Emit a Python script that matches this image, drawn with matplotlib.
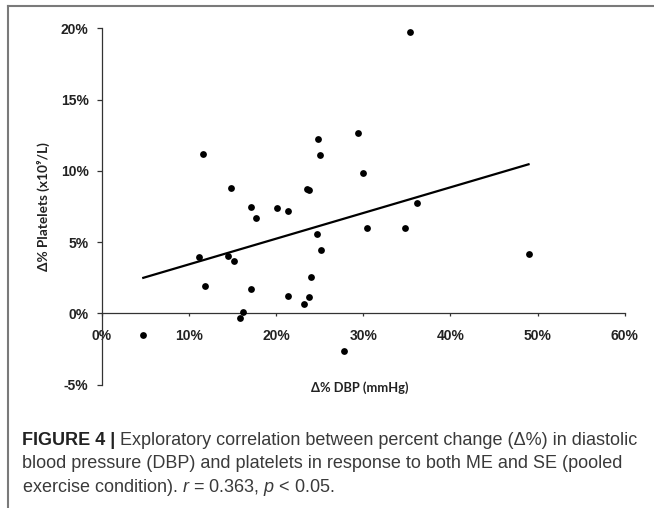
import numpy as np
import matplotlib
matplotlib.use("Agg")
import matplotlib.pyplot as plt
from matplotlib.lines import Line2D
from matplotlib.ticker import FuncFormatter

# ---- data (percent values) ----
dbp_change = [11.58, 14.83, 17.12, 17.73, 20.1, 21.4, 23.54, 23.8, 24.8, 25.03,
              29.43, 29.93, 30.42, 24.65, 25.15, 11.19, 14.48, 15.21, 11.81, 17.12,
              21.4, 23.17, 23.77, 24.0, 16.2, 15.86, 4.77, 35.36, 36.12, 34.75,
              48.97, 27.76]
platelet_change = [11.2, 8.82, 7.48, 6.71, 7.41, 7.18, 8.75, 8.65, 12.21, 11.11,
                   12.68, 9.87, 6.01, 5.54, 4.46, 3.93, 4.0, 3.69, 1.94, 1.68,
                   1.21, 0.67, 1.14, 2.55, 0.07, -0.31, -1.52, 19.76, 7.72, 6.01,
                   4.16, -2.65]
x_ticks = [0, 10, 20, 30, 40, 50, 60]
y_ticks = [-5, 0, 5, 10, 15, 20]

x_label = "Δ% DBP (mmHg)"
y_label = "Δ% Platelets (x10⁹/L)"
caption_bold = "FIGURE 4 |"
caption_lines = [
    " Exploratory correlation between percent change (Δ%) in diastolic",
    "blood pressure (DBP) and platelets in response to both ME and SE (pooled",
    "exercise condition). $r$ = 0.363, $p$ < 0.05.",
]

plt.rcParams['mathtext.fontset'] = 'custom'
plt.rcParams['mathtext.rm'] = 'Liberation Sans'
plt.rcParams['mathtext.it'] = 'Liberation Sans:italic'
plt.rcParams['mathtext.bf'] = 'Liberation Sans:bold'

W, H = 654, 508
fig = plt.figure(figsize=(W / 100, H / 100), dpi=100)
fig.patch.set_facecolor('white')

# axes placement (pixels measured from reference)
x0_px, x1_px = 101.7, 624.7
ytop_px, ybot_px = 28.3, 384.5
ax = fig.add_axes([x0_px / W, (H - ybot_px) / H, (x1_px - x0_px) / W, (ybot_px - ytop_px) / H])

ax.scatter(dbp_change, platelet_change, s=24, color='black', zorder=3, linewidths=0)

# linear trend line from the data
xa = np.array(dbp_change)
ya = np.array(platelet_change)
k, b = np.polyfit(xa, ya, 1)
xs = np.array([xa.min(), xa.max()])
ax.plot(xs, k * xs + b, color='black', lw=1.6, zorder=2)

ax.set_xlim(0, 60)
ax.set_ylim(-5, 20)
ax.set_xticks(x_ticks)
ax.set_yticks(y_ticks)
pct = FuncFormatter(lambda v, p: f"{int(round(v))}%")
ax.xaxis.set_major_formatter(pct)
ax.yaxis.set_major_formatter(pct)

for s in ['top', 'right']:
    ax.spines[s].set_visible(False)
ax.spines['bottom'].set_position(('data', 0))
for s in ['left', 'bottom']:
    ax.spines[s].set_color('#333333')
    ax.spines[s].set_linewidth(0.9)

ax.tick_params(axis='x', direction='out', length=2.5, width=0.9, color='#333333', pad=9)
ax.tick_params(axis='y', direction='out', length=3.5, width=0.9, color='#333333', pad=6)
for lab in ax.get_xticklabels() + ax.get_yticklabels():
    lab.set_fontfamily('Liberation Sans')
    lab.set_fontweight('bold')
    lab.set_fontsize(10)
    lab.set_color('#222222')

# axis titles
fig.text(43 / W, 1 - 207 / H, y_label, rotation=90, ha='center', va='center',
         fontsize=9.8, fontweight='bold', family=['Lato', 'DejaVu Sans'], color='#222222')
fig.text(360 / W, 1 - 388 / H, x_label, ha='center', va='center',
         fontsize=9.3, fontweight='bold', family=['Lato', 'DejaVu Sans'], color='#222222')

# frame lines (top and left only)
fig.add_artist(Line2D([7.5 / W, 1.0], [1 - 6 / H, 1 - 6 / H], color='#7a7a7a', lw=1.5))
fig.add_artist(Line2D([7.5 / W, 7.5 / W], [0, 1 - 6 / H], color='#7a7a7a', lw=1.5))

# caption, fit first line width to reference
cap_x = 22
target_w = 640 - 22
baselines = [445, 468.5, 492]
fs = 12
renderer = fig.canvas.get_renderer()
tb = fig.text(cap_x / W, 1 - baselines[0] / H, caption_bold, fontsize=fs, fontweight='bold',
              family='Liberation Sans', color='#222222', va='baseline')
t1 = fig.text(0, 1 - baselines[0] / H, caption_lines[0], fontsize=fs,
              family=['Liberation Sans', 'DejaVu Sans'], color='#3a3a3a', va='baseline')
wb = tb.get_window_extent(renderer).width
w1 = t1.get_window_extent(renderer).width
fs = fs * target_w / (wb + w1)
tb.set_fontsize(fs)
t1.set_fontsize(fs)
wb = tb.get_window_extent(renderer).width
t1.set_x((cap_x + wb) / W)
for line, bl in zip(caption_lines[1:], baselines[1:]):
    fig.text(cap_x / W, 1 - bl / H, line, fontsize=fs,
             family=['Liberation Sans', 'DejaVu Sans'], color='#3a3a3a', va='baseline')

fig.savefig('out.png', dpi=100, facecolor='white')
